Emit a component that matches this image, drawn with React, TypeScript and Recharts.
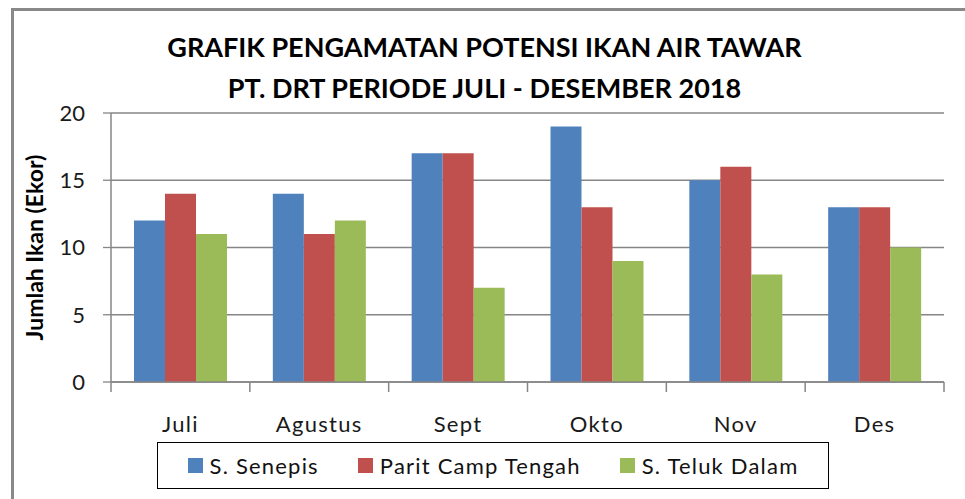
import React from "react";
import { BarChart, Bar, XAxis, YAxis, CartesianGrid } from "recharts";

const categories = ["Juli", "Agustus", "Sept", "Okto", "Nov", "Des"];
const seriesNames = ["S. Senepis", "Parit Camp Tengah", "S. Teluk Dalam"];
const senepis = [12, 14, 17, 19, 15, 13];
const paritCamp = [14, 11, 17, 13, 16, 13];
const telukDalam = [11, 12, 7, 9, 8, 10];
const yTicks = [0, 5, 10, 15, 20];
const titleLines = [
  "GRAFIK PENGAMATAN POTENSI IKAN AIR TAWAR",
  "PT. DRT PERIODE JULI - DESEMBER 2018",
];
const yLabel = "Jumlah Ikan (Ekor)";

const colors = ["#4F81BD", "#C0504D", "#9BBB59"];
const keys = ["s1", "s2", "s3"];

const data = categories.map((c, i) => ({
  name: c,
  s1: senepis[i],
  s2: paritCamp[i],
  s3: telukDalam[i],
}));

const W = 965;
const H = 499;
const PLOT_LEFT = 111;
const PLOT_RIGHT = 944;
const PLOT_TOP = 113;
const PLOT_BOTTOM = 382;
const BAND = (PLOT_RIGHT - PLOT_LEFT) / categories.length;
const FONT = "Lato, 'Open Sans', sans-serif";

const XTick = (props: any) => {
  const { x, payload, index } = props;
  const left = x - BAND / 2;
  const right = x + BAND / 2;
  return (
    <g>
      <line x1={left} y1={PLOT_BOTTOM} x2={left} y2={PLOT_BOTTOM + 10} stroke="#868686" strokeWidth={1.5} />
      {index === categories.length - 1 && (
        <line x1={right} y1={PLOT_BOTTOM} x2={right} y2={PLOT_BOTTOM + 10} stroke="#868686" strokeWidth={1.5} />
      )}
      <text
        x={x}
        y={PLOT_BOTTOM + 50}
        textAnchor="middle"
        fill="#1a1a1a"
        style={{ fontFamily: FONT, fontSize: 22, letterSpacing: 1.3 }}
      >
        {payload.value}
      </text>
    </g>
  );
};

export default function App() {
  return (
    <div
      style={{
        position: "absolute",
        left: 0,
        top: 0,
        width: W,
        height: H,
        overflow: "hidden",
        background: "#fff",
        fontFamily: FONT,
      }}
    >
      <div
        style={{
          position: "absolute",
          left: 11,
          top: 8,
          width: W,
          height: H,
          border: "3px solid #898989",
          boxSizing: "border-box",
        }}
      />
      {titleLines.map((t, i) => (
        <div
          key={i}
          style={{
            position: "absolute",
            left: 0,
            width: W,
            top: 31 + i * 41,
            textAlign: "center",
            fontSize: 27,
            fontWeight: 700,
            color: "#000",
            fontFamily: FONT,
            lineHeight: "32px",
            paddingLeft: 4,
            boxSizing: "border-box",
          }}
        >
          {t}
        </div>
      ))}
      <div style={{ position: "absolute", left: 0, top: 0 }}>
        <BarChart
          width={W}
          height={H}
          data={data}
          margin={{ top: PLOT_TOP, right: W - PLOT_RIGHT, bottom: H - PLOT_BOTTOM - 30, left: 0 }}
          barSize={31}
          barGap={0}
        >
          <CartesianGrid vertical={false} stroke="#868686" strokeWidth={1.3} />
          <XAxis
            dataKey="name"
            height={30}
            axisLine={{ stroke: "#868686", strokeWidth: 1.5 }}
            tickLine={false}
            tick={<XTick />}
            tickMargin={0}
            interval={0}
          />
          <YAxis
            width={PLOT_LEFT}
            domain={[0, 20]}
            ticks={yTicks}
            axisLine={{ stroke: "#868686", strokeWidth: 1.5 }}
            tickLine={{ stroke: "#868686", strokeWidth: 1.3 }}
            tickSize={8}
            tickMargin={18}
            tick={{ fill: "#1a1a1a", fontSize: 22, fontFamily: FONT }}
            label={{
              value: yLabel,
              angle: -90,
              position: "insideLeft",
              offset: 35,
              style: { fontFamily: FONT, fontSize: 23, fontWeight: 700, fill: "#000", textAnchor: "middle" },
            }}
          />
          {keys.map((k, i) => (
            <Bar key={k} dataKey={k} name={seriesNames[i]} fill={colors[i]} isAnimationActive={false} />
          ))}
        </BarChart>
      </div>
      <div
        style={{
          position: "absolute",
          left: 157,
          top: 442,
          width: 672,
          height: 47,
          border: "1.5px solid #000",
          boxSizing: "border-box",
          display: "flex",
          alignItems: "center",
          justifyContent: "center",
          gap: 39,
          fontSize: 22,
          color: "#111",
          letterSpacing: 1.2,
        }}
      >
        {seriesNames.map((n, i) => (
          <div key={n} style={{ display: "flex", alignItems: "center" }}>
            <span style={{ display: "inline-block", width: 15, height: 15, background: colors[i], marginRight: 7 }} />
            <span>{n}</span>
          </div>
        ))}
      </div>
    </div>
  );
}
